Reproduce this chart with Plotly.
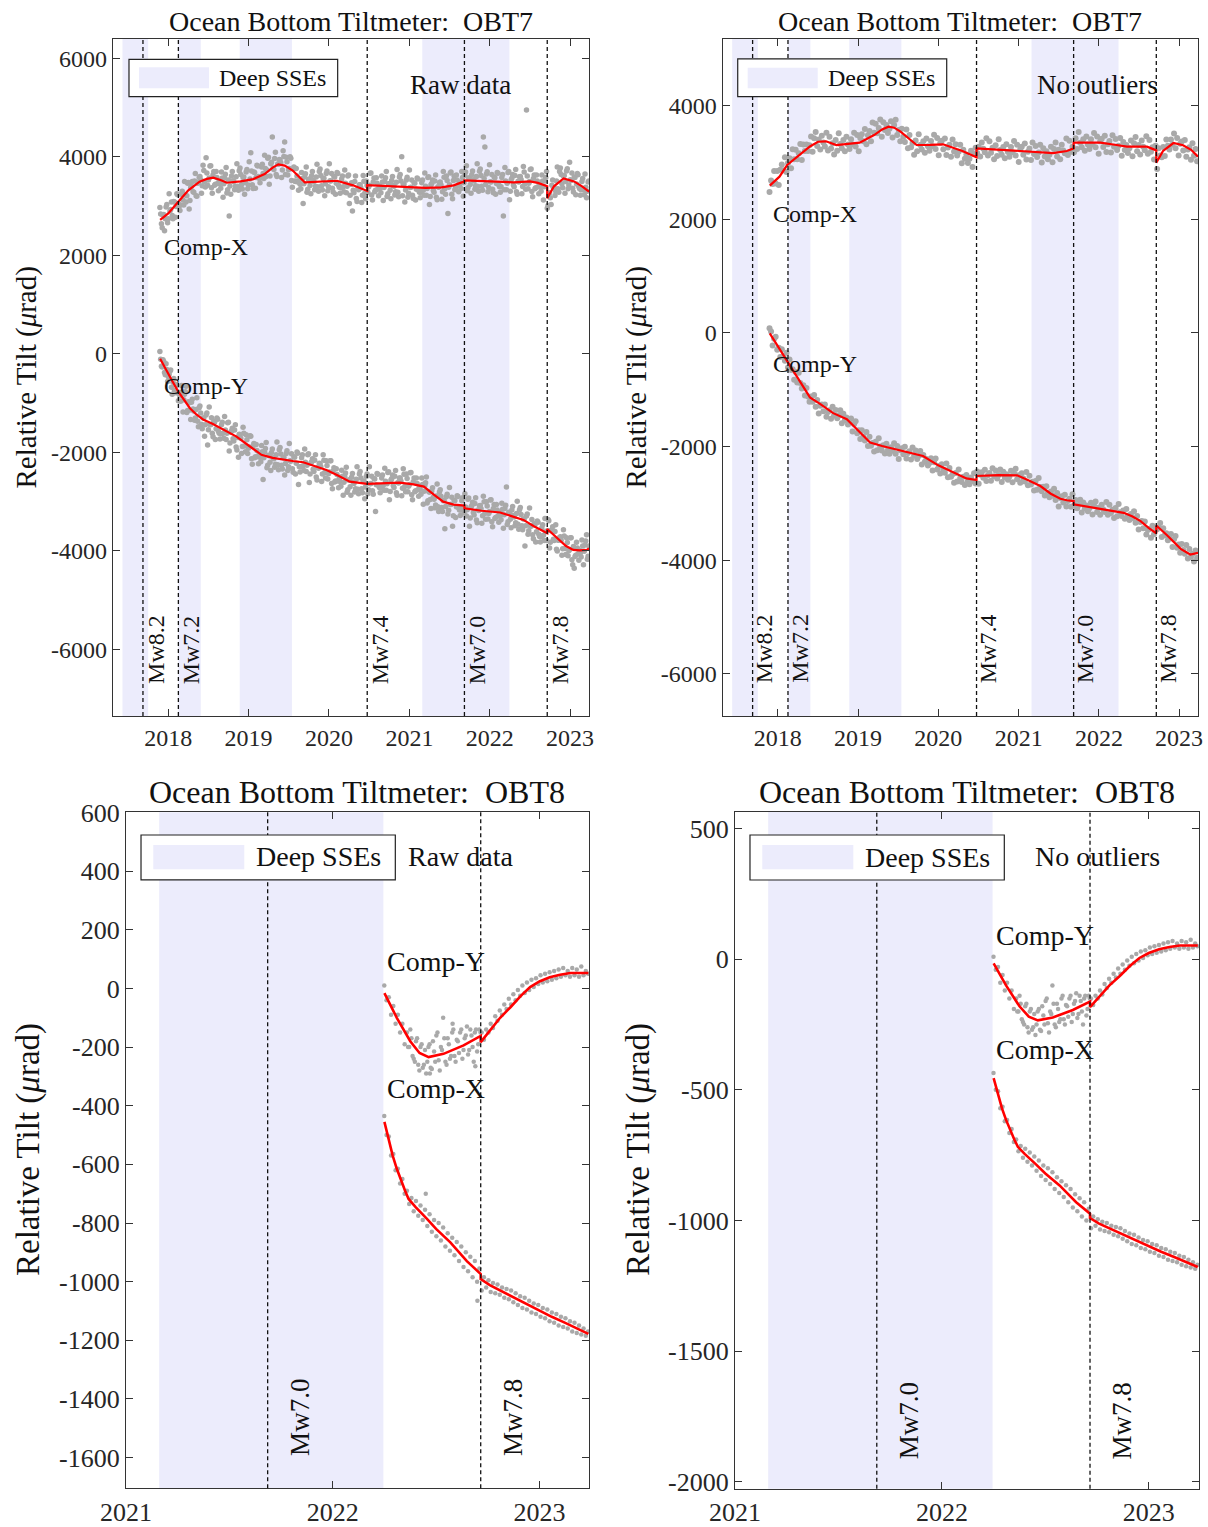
import numpy as np
import pandas as pd
import plotly.graph_objects as go
from datetime import datetime

# ---------------------------------------------------------------- helpers
def dy(t):
    y = int(np.floor(t))
    a = datetime(y, 1, 1)
    b = datetime(y + 1, 1, 1)
    return a + (b - a) * (t - y)

FONT = "Liberation Serif"
AXC = "#333333"
TXT = "#111111"
GRAY = "#a9a9a9"
RED = "#ff0000"
SSE = "rgb(236,236,252)"

# ---------------------------------------------------------------- events
QUAKES_TOP = [2017.685, 2018.126, 2020.476, 2021.685, 2022.716]
QUAKE_LABELS_TOP = ["Mw8.2", "Mw7.2", "Mw7.4", "Mw7.0", "Mw7.8"]
QUAKES_BOT = [2021.685, 2022.716]
QUAKE_LABELS_BOT = ["Mw7.0", "Mw7.8"]
SSE_START = [2017.43, 2018.125, 2018.89, 2021.16]
SSE_END = [2017.75, 2018.405, 2019.54, 2022.245]

# ---------------------------------------------------------------- OBT7 samples (weekly)
top_dates = pd.date_range("2017-11-24", periods=279, freq="7D")
top_dates_b = pd.date_range("2017-11-27 12:00", periods=279, freq="7D")

obt7_raw_x = [
    2970, 2640, 2820, 2500, 2980, 2660, 3250, 2930, 2810, 3090, 2770, 3250, 3040,
    2910, 3240, 3120, 3500, 3080, 3460, 2940, 3370, 3500, 3280, 3660, 3200, 3480,
    3600, 3260, 3830, 3500, 3980, 3420, 3570, 3820, 3260, 3700, 3440, 3580, 3310,
    3450, 3690, 3180, 3570, 3780, 3330, 2800, 3240, 3700, 3500, 3400, 3860, 3320,
    3770, 3430, 3580, 3240, 3690, 3350, 3900, 4080, 3430, 3690, 3360, 3830, 3600,
    3470, 3790, 3660, 4030, 3600, 3970, 3440, 3860, 4400, 3740, 4090, 3600, 3850,
    3940, 3580, 4120, 4300, 3990, 3630, 3760, 3970, 3380, 3790, 3500, 3610, 3320,
    3440, 3680, 3050, 3590, 3790, 3340, 3550, 3250, 3700, 3500, 3400, 3850, 3300,
    3750, 3410, 3560, 3210, 3660, 3310, 3860, 3510, 3360, 3600, 3240, 3680, 3420,
    3260, 3550, 3390, 3730, 3270, 3610, 3050, 3440, 2900, 3270, 3610, 3090, 3330,
    3430, 3070, 3620, 3260, 3510, 3280, 3420, 3670, 3120, 3570, 3320, 3460, 3210,
    3360, 3610, 3110, 3500, 3700, 3250, 3450, 3150, 3600, 3400, 3290, 3740, 3190,
    3640, 4000, 3440, 3080, 3530, 3180, 3730, 3380, 3220, 3470, 3120, 3570, 3320,
    3170, 3470, 3320, 3670, 3220, 3580, 3030, 3430, 3530, 3280, 3630, 3130, 3380,
    3490, 3140, 3700, 3350, 3610, 2850, 3430, 3690, 3150, 3610, 3370, 3530, 3290,
    3450, 3700, 3200, 3620, 3820, 3370, 3570, 3260, 3710, 3510, 3410, 3860, 3300,
    3750, 3400, 4400, 4200, 3650, 3290, 3840, 3490, 3340, 3590, 3240, 3680, 3430,
    3280, 3580, 2800, 3780, 3330, 3680, 3130, 3530, 3640, 3390, 3740, 3240, 3490,
    3600, 3250, 3800, 3450, 4950, 3350, 3500, 3750, 3190, 3630, 3370, 3510, 3250,
    3390, 3630, 3120, 3510, 3700, 3010, 3270, 3030, 3530, 3370, 3300, 3790, 3280,
    3770, 3450, 3610, 3260, 3710, 3350, 3890, 3520, 3360, 3590, 3230, 3660, 3390,
    3220, 3500, 3330, 3650, 3170, 3490,
]
obt7_raw_x_b = [
    2840, 2560, 2830, 2740, 3030, 2740, 2900, 3080, 2740, 3080, 2990, 3230, 3000,
    3020, 3300, 3020, 3230, 3210, 3480, 3110, 3400, 3290, 3510, 3210, 3460, 3580,
    3535, 3410, 3720, 3385, 3670, 3530, 3814, 3370, 3630, 3420, 3700, 3455, 3510,
    3360, 3570, 3450, 3643, 3265, 3530, 3405, 3610, 3515, 3330, 3595, 3400, 3715,
    3640, 3345, 3590, 3475, 3740, 3425, 3550, 3710, 3355, 3680, 3580, 3810, 3560,
    3580, 3850, 3560, 3760, 3730, 3990, 3610, 3890, 3765, 3965, 3640, 3855, 3945,
    3880, 3730, 4005, 3640, 3900, 3735, 4000, 3520, 3750, 3510, 3760, 3490, 3520,
    3350, 3560, 3450, 3655, 3280, 3540, 3415, 3615, 3520, 3330, 3590, 3390, 3700,
    3620, 3325, 3565, 3450, 3710, 3393, 3513, 3660, 3285, 3590, 3460, 3660, 3380,
    3370, 3610, 3290, 3460, 3400, 3630, 3220, 3470, 3320, 3500, 3155, 3350, 3430,
    3365, 3220, 3505, 3150, 3415, 3386, 3664, 3222, 3490, 3288, 3576, 3344, 3412,
    3270, 3488, 3376, 3574, 3192, 3450, 3320, 3520, 3418, 3226, 3484, 3282, 3590,
    3510, 3208, 3446, 3324, 3582, 3260, 3378, 3526, 3154, 3462, 3340, 3550, 3280,
    3280, 3530, 3220, 3402, 3354, 3595, 3196, 3457, 3318, 3509, 3180, 3390, 3480,
    3425, 3290, 3585, 3240, 3520, 3380, 3670, 3240, 3520, 3330, 3630, 3410, 3490,
    3355, 3578, 3470, 3690, 3310, 3568, 3436, 3634, 3532, 3340, 3598, 3396, 3704,
    3622, 3320, 3560, 3438, 3696, 3374, 3492, 3640, 3268, 3576, 3455, 3664, 3393,
    3392, 3641, 3330, 3510, 3460, 3700, 3302, 3564, 3426, 3618, 3290, 3502, 3594,
    3536, 3398, 3690, 3340, 3610, 3460, 3740, 3295, 3560, 3350, 3630, 3390, 3450,
    3300, 3510, 3390, 3580, 2955, 3240, 3170, 3420, 3370, 3215, 3510, 3350, 3700,
    3640, 3370, 3620, 3500, 3755, 3425, 3535, 3670, 3285, 3580, 3445, 3635, 3350,
    3330, 3560, 3230, 3380, 3300, 3510,
]
obt7_raw_y = [
    50, -250, -120, -380, -200, -560, -420, -330, -820, -500, -790, -640, -950,
    -850, -640, -1180, -820, -660, -1150, -990, -1330, -920, -1160, -1300, -890, -1480,
    -1060, -1430, -1300, -1670, -1240, -1850, -1080, -1440, -1610, -1370, -1740, -1300, -1570,
    -1730, -1440, -1610, -1270, -1740, -1400, -1970, -1590, -1510, -1770, -1440, -1950, -2100,
    -1640, -2020, -1490, -1870, -1640, -2020, -1890, -1670, -2240, -1820, -2090, -1960, -2230,
    -2100, -1860, -2550, -1990, -1800, -2260, -2070, -2370, -1930, -2130, -2240, -1790, -2350,
    -1900, -2260, -2110, -2460, -2020, -2370, -1820, -2180, -2330, -2090, -2440, -1990, -2650,
    -2400, -2110, -2270, -1930, -2390, -2050, -2610, -2220, -2130, -2390, -2050, -2560, -2320,
    -2230, -2590, -2050, -2410, -2170, -2540, -2400, -2170, -2740, -2310, -2580, -2450, -2720,
    -2590, -2360, -2870, -2490, -2300, -2760, -2560, -2870, -2430, -2630, -2740, -2290, -2840,
    -2390, -2740, -2590, -2940, -2490, -2840, -2290, -2630, -2780, -2530, -3200, -2430, -2670,
    -2820, -2520, -2670, -2320, -2770, -2410, -2960, -2560, -2460, -2710, -2370, -2870, -2620,
    -2520, -2880, -2330, -2690, -2440, -2800, -2650, -2410, -2960, -2520, -2780, -2630, -2890,
    -2750, -2520, -3050, -2670, -2500, -2980, -2810, -3140, -2720, -2950, -3070, -2640, -3200,
    -2760, -3120, -2980, -3550, -2900, -3250, -2710, -3060, -3500, -2970, -3320, -2880, -3130,
    -3280, -2980, -3130, -2840, -3290, -2950, -3500, -3110, -3010, -3270, -2920, -3430, -3180,
    -3080, -3440, -2890, -3240, -3000, -3350, -3200, -2960, -3510, -3060, -3320, -3170, -3420,
    -3280, -3030, -3540, -3140, -2700, -3410, -3220, -3530, -3100, -3310, -3430, -2990, -3560,
    -3120, -3490, -3350, -3900, -3290, -3660, -3130, -3500, -3670, -3450, -3820, -3390, -3660,
    -3820, -3530, -3680, -3340, -3790, -3360, -3940, -3580, -3510, -3790, -3470, -4000, -3780,
    -3710, -4090, -3570, -3950, -3730, -4100, -3970, -3730, -4280, -4350, -4090, -3940, -4190,
    -4040, -3780, -4280, -3880, -3670, -4110,
]
obt7_raw_y_b = [
    -110, -265, -155, -425, -320, -465, -355, -680, -575, -745, -620, -795, -785,
    -960, -780, -930, -770, -1190, -970, -1140, -980, -1120, -1350, -1130, -1370, -1095,
    -1198, -1520, -1300, -1440, -1200, -1538, -1432, -1298, -1682, -1388, -1522, -1328, -1610,
    -1622, -1388, -1712, -1548, -1612, -1390, -1810, -1568, -1722, -1548, -1892, -1700, -1630,
    -1712, -1878, -1612, -1988, -1742, -1918, -1662, -2128, -1882, -2108, -1840, -2090, -2038,
    -2192, -1988, -2110, -1920, -2310, -2060, -2198, -2002, -2108, -2302, -2048, -2252, -1948,
    -2032, -2338, -2101, -2224, -1966, -2289, -2172, -2028, -2402, -2098, -2222, -2018, -2290,
    -2292, -2050, -2370, -2200, -2260, -2030, -2440, -2190, -2340, -2160, -2500, -2300, -2220,
    -2290, -2440, -2160, -2522, -2268, -2432, -2170, -2630, -2380, -2600, -2330, -2580, -2530,
    -2688, -2482, -2608, -2420, -2810, -2558, -2696, -2502, -2608, -2802, -2546, -2749, -2440,
    -2520, -2820, -2580, -2700, -2439, -2757, -2635, -2483, -2851, -2539, -2657, -2445, -2713,
    -2711, -2459, -2767, -2585, -2634, -2393, -2793, -2533, -2673, -2485, -2817, -2609, -2521,
    -2583, -2727, -2442, -2797, -2532, -2687, -2412, -2858, -2595, -2801, -2518, -2756, -2695,
    -2850, -2652, -2788, -2615, -3025, -2795, -2955, -2785, -2912, -3125, -2885, -3102, -2802,
    -2890, -3200, -2970, -3100, -2848, -3172, -3058, -2912, -3288, -2982, -3105, -2897, -3169,
    -3170, -2920, -3230, -3108, -3162, -2928, -3332, -3078, -3222, -3038, -3372, -3168, -3082,
    -3145, -3288, -3002, -3355, -3088, -3242, -2965, -3408, -3140, -3344, -3056, -3289, -3222,
    -3368, -3152, -3268, -3075, -3465, -3215, -3355, -3168, -3282, -3488, -3242, -3458, -3162,
    -3258, -3572, -3350, -3490, -3250, -3590, -3490, -3360, -3752, -3468, -3610, -3420, -3705,
    -3714, -3471, -3786, -3609, -3590, -3388, -3822, -3595, -3765, -3605, -3965, -3785, -3725,
    -3785, -3955, -3695, -4072, -3828, -3998, -3730, -4178, -3912, -4115, -3825, -4055, -3985,
    -4124, -3901, -4008, -3800, -4170, -3902,
]
obt7_clean_x = [
    2480, 2680, 2620, 2850, 2630, 2850, 2600, 2870, 2960, 2860, 3090, 2830, 2990,
    3070, 2895, 3230, 3055, 3220, 3055, 3160, 3325, 3040, 3315, 3200, 3315, 3200,
    3300, 3455, 3185, 3422, 3535, 3288, 3400, 3228, 3470, 3350, 3280, 3520, 3208,
    3450, 3245, 3335, 3138, 3392, 3206, 3510, 3324, 3248, 3392, 3196, 3450, 3312,
    3234, 3405, 3316, 3520, 3280, 3480, 3195, 3430, 3495, 3370, 3585, 3320, 3475,
    3550, 3370, 3700, 3520, 3680, 3510, 3605, 3755, 3452, 3706, 3567, 3657, 3516,
    3592, 3725, 3435, 3655, 3750, 3480, 3570, 3370, 3590, 3450, 3360, 3580, 3250,
    3480, 3265, 3340, 3135, 3385, 3195, 3496, 3307, 3228, 3369, 3170, 3421, 3282,
    3203, 3374, 3285, 3486, 3237, 3427, 3126, 3340, 3380, 3230, 3420, 3130, 3260,
    3310, 3100, 3400, 3190, 3320, 3120, 3185, 3310, 2985, 3220, 3065, 3140, 2990,
    3065, 3202, 2920, 3149, 3258, 3166, 3274, 3102, 3350, 3238, 3176, 3424, 3122,
    3370, 3168, 3256, 3054, 3302, 3110, 3408, 3216, 3134, 3272, 3071, 3320, 3180,
    3100, 3268, 3176, 3374, 3122, 3310, 3008, 3226, 3274, 3132, 3330, 3048, 3186,
    3244, 3042, 3350, 3148, 3286, 3094, 3172, 3310, 2998, 3246, 3105, 3194, 3054,
    3134, 3276, 3000, 3235, 3350, 3105, 3220, 3055, 3310, 3210, 3160, 3420, 3128,
    3382, 3185, 3276, 3176, 3426, 3236, 3536, 3346, 3266, 3406, 3206, 3456, 3316,
    3236, 3406, 3316, 3516, 3266, 3455, 3153, 3370, 3416, 3272, 3468, 3184, 3320,
    3376, 3172, 3478, 3274, 3410, 3216, 3292, 3428, 3114, 3360, 3218, 3306, 3166,
    3246, 3386, 3106, 3336, 3446, 3196, 3306, 3136, 3386, 3275, 3214, 3460, 3152,
    3395, 3185, 3265, 3052, 3291, 2884, 3250, 3120, 3090, 3270, 3110, 3400, 3290,
    3225, 3400, 3310, 3508, 3250, 3430, 3120, 3328, 3365, 3210, 3395, 3100, 3225,
    3265, 3045, 3335, 3115, 3235, 3020,
]
obt7_clean_y = [
    80, 25, -220, -105, -70, -295, -260, -425, -290, -410, -490, -350, -610,
    -470, -655, -640, -825, -690, -875, -700, -880, -980, -920, -1100, -970, -1120,
    -1210, -1120, -1210, -1095, -1300, -1180, -1420, -1280, -1260, -1380, -1260, -1475, -1390,
    -1360, -1510, -1300, -1448, -1356, -1504, -1452, -1360, -1590, -1422, -1535, -1490, -1610,
    -1575, -1505, -1735, -1605, -1555, -1765, -1715, -1865, -1715, -1825, -1895, -1745, -1990,
    -1829, -1985, -1938, -2088, -1916, -2064, -1852, -2000, -2068, -1976, -2124, -1952, -2060,
    -2125, -2010, -2075, -1940, -2126, -1992, -2218, -2064, -2030, -2136, -2002, -2208, -2115,
    -2082, -2229, -2016, -2163, -2070, -2218, -2165, -2080, -2315, -2150, -2265, -2220, -2335,
    -2290, -2205, -2420, -2275, -2210, -2405, -2340, -2475, -2310, -2405, -2460, -2300, -2540,
    -2375, -2530, -2485, -2635, -2465, -2615, -2405, -2555, -2622, -2529, -2675, -2500, -2604,
    -2665, -2546, -2607, -2468, -2648, -2438, -2656, -2494, -2452, -2550, -2408, -2606, -2505,
    -2464, -2603, -2382, -2522, -2422, -2562, -2502, -2402, -2622, -2443, -2544, -2485, -2586,
    -2525, -2425, -2626, -2468, -2390, -2575, -2505, -2637, -2470, -2563, -2616, -2449, -2682,
    -2515, -2668, -2621, -2774, -2607, -2760, -2554, -2711, -2788, -2705, -2862, -2699, -2816,
    -2893, -2790, -2867, -2744, -2941, -2818, -3055, -2905, -2875, -2982, -2848, -3053, -2956,
    -2918, -3059, -2839, -3038, -2942, -3086, -3030, -2935, -3160, -2985, -3090, -3035, -3140,
    -3085, -2990, -3195, -3040, -2965, -3150, -3075, -3200, -3024, -3108, -3152, -2976, -3200,
    -3024, -3168, -3112, -3256, -3080, -3225, -3010, -3155, -3220, -3125, -3270, -3100, -3215,
    -3290, -3185, -3260, -3140, -3340, -3220, -3460, -3325, -3310, -3435, -3320, -3545, -3470,
    -3450, -3605, -3395, -3542, -3449, -3455, -3420, -3345, -3590, -3435, -3560, -3525, -3650,
    -3615, -3540, -3765, -3630, -3575, -3780, -3725, -3870, -3715, -3820, -3885, -3730, -3970,
    -3800, -3945, -3885, -4020, -3830, -3955,
]

# fitted curves OBT7 (decimal year knots, repeated knot = coseismic step)
fit7_raw_x_t = [2017.899, 2018.0, 2018.125, 2018.25, 2018.39, 2018.48, 2018.56, 2018.65, 2018.73,
                2018.9, 2019.06, 2019.2, 2019.3, 2019.37, 2019.45, 2019.55, 2019.7, 2019.9, 2020.1,
                2020.3, 2020.476, 2020.476, 2020.7, 2020.9, 2021.2, 2021.4, 2021.55, 2021.685,
                2021.685, 2022.0, 2022.3, 2022.5, 2022.6, 2022.716, 2022.716, 2022.8, 2022.92,
                2023.05, 2023.15, 2023.236]
fit7_raw_x = [2717, 2850, 3088, 3320, 3493, 3550, 3574, 3530, 3473, 3500, 3547, 3650, 3780, 3845,
              3820, 3720, 3480, 3495, 3513, 3420, 3305, 3426, 3410, 3400, 3370, 3380, 3420, 3500,
              3520, 3500, 3480, 3500, 3470, 3400, 3157, 3400, 3560, 3500, 3400, 3290]
fit7_raw_y_t = [2017.899, 2017.95, 2018.0, 2018.06, 2018.125, 2018.2, 2018.27, 2018.35, 2018.44,
                2018.55, 2018.68, 2018.78, 2018.85, 2019.0, 2019.16, 2019.3, 2019.43, 2019.55,
                2019.68, 2019.82, 2019.97, 2020.1, 2020.26, 2020.476, 2020.7, 2020.88, 2021.05,
                2021.18, 2021.3, 2021.42, 2021.55, 2021.685, 2021.685, 2021.9, 2022.13, 2022.3,
                2022.42, 2022.55, 2022.716, 2022.716, 2022.85, 2022.95, 2023.04, 2023.12, 2023.21,
                2023.236]
fit7_raw_y = [-100, -260, -400, -580, -765, -950, -1103, -1230, -1340, -1420, -1530, -1620, -1680,
              -1860, -2050, -2110, -2150, -2175, -2200, -2270, -2356, -2460, -2593, -2640, -2625,
              -2613, -2650, -2695, -2850, -3000, -3060, -3080, -3135, -3185, -3220, -3300, -3370,
              -3500, -3640, -3555, -3750, -3900, -3980, -3990, -3980, -3950]
fit7_clean_x_t = [2017.899, 2017.97, 2018.02, 2018.116, 2018.2, 2018.27, 2018.4, 2018.5, 2018.6,
                  2018.73, 2018.9, 2019.02, 2019.2, 2019.3, 2019.38, 2019.45, 2019.53, 2019.63,
                  2019.73, 2019.9, 2020.06, 2020.3, 2020.476, 2020.476, 2020.9, 2021.2, 2021.43,
                  2021.6, 2021.685, 2021.685, 2022.02, 2022.2, 2022.35, 2022.6, 2022.716, 2022.716,
                  2022.8, 2022.93, 2023.05, 2023.15, 2023.236]
fit7_clean_x = [2590, 2680, 2748, 2953, 3050, 3129, 3280, 3363, 3370, 3305, 3330, 3346, 3480, 3580,
                3627, 3610, 3540, 3420, 3305, 3308, 3317, 3200, 3088, 3246, 3211, 3190, 3164, 3200,
                3246, 3346, 3346, 3310, 3276, 3276, 3211, 2994, 3200, 3340, 3300, 3220, 3100]
fit7_clean_y_t = [2017.899, 2017.98, 2018.05, 2018.10, 2018.18, 2018.27, 2018.4, 2018.53, 2018.69,
                  2018.86, 2019.0, 2019.15, 2019.3, 2019.48, 2019.65, 2019.81, 2020.0, 2020.19,
                  2020.35, 2020.476, 2020.476, 2020.75, 2020.98, 2021.1, 2021.27, 2021.4, 2021.52,
                  2021.6, 2021.685, 2021.685, 2022.06, 2022.31, 2022.42, 2022.52, 2022.62, 2022.716,
                  2022.716, 2022.85, 2023.02, 2023.14, 2023.236]
fit7_clean_y = [-10, -194, -330, -459, -650, -841, -1135, -1253, -1412, -1518, -1720, -1929, -1990,
                -2047, -2110, -2165, -2330, -2459, -2560, -2588, -2518, -2502, -2506, -2580, -2694,
                -2830, -2918, -2945, -2959, -3018, -3106, -3165, -3230, -3312, -3430, -3529, -3388,
                -3560, -3800, -3900, -3870]

# ---------------------------------------------------------------- OBT8 samples (every 4 days)
bot_dates = pd.date_range("2022-04-02", periods=91, freq="4D")
obt8_y = [
    10, -40, -30, -90, -60, -120, -90, -150, -120, -190, -150, -200, -170,
    -240, -180, -260, -200, -270, -210, -250, -190, -275, -215, -160, -245, -200,
    -100, -250, -170, -240, -150, -230, -175, -220, -140, -210, -160, -225, -140,
    -200, -150, -215, -140,
    -150, -175, -140, -150, -120, -135, -95, -110, -75, -90, -55, -70, -35,
    -55, -20, -40, -5, -25, 10, -15, 20, -5, 30, 5, 35, 15,
    45, 20, 50, 25, 55, 30, 60, 35, 65, 40, 70, 45, 60,
    40, 70, 45, 65, 40, 75, 45, 60, 50,
]
# extra samples in the scattered trough of Comp-Y (mid-May to mid-Sep 2022)
trough_dates = pd.date_range("2022-05-14", periods=33, freq="4D")
obt8_y_trough = [
    -200, -140, -230, -250, -170, -280, -190, -260, -290, -200, -270, -180, -250,
    -150, -280, -210, -170, -260, -190, -230, -140, -250, -180, -150, -240, -170,
    -130, -210, -160, -250, -140, -190, -150,
]
obt8_x = [
    -435, -500, -505, -570, -565, -620, -615, -665, -650, -700, -690, -735, -715,
    -760, -725, -775, -740, -790, -755, -810, -770, -830, -790, -845, -800, -860,
    -815, -880, -835, -895, -850, -910, -865, -930, -880, -950, -900, -965, -915,
    -985, -930, -1000, -955,
    -1030, -985, -1020, -995, -1035, -1005, -1040, -1010, -1045, -1020, -1055, -1025, -1060,
    -1030, -1070, -1040, -1080, -1050, -1090, -1055, -1095, -1065, -1105, -1075, -1110, -1080,
    -1120, -1090, -1125, -1095, -1135, -1105, -1140, -1110, -1150, -1120, -1155, -1125, -1160,
    -1135, -1170, -1140, -1175, -1150, -1180, -1160, -1185, -1170,
]
# points present only in the raw record
obt8_out_y_t = [2022.47, 2022.69, 2022.58]
obt8_out_y = [-290, -265, -120]
obt8_out_x_t = [2022.45, 2022.70]
obt8_out_x = [-700, -1065]

fit8_y_t = [2022.25, 2022.31, 2022.375, 2022.42, 2022.464, 2022.536, 2022.633, 2022.716, 2022.716,
            2022.76, 2022.81, 2022.86, 2022.91, 2022.955, 2023.0, 2023.05, 2023.1, 2023.15, 2023.237]
fit8_y = [-16, -100, -180, -220, -234, -223, -194, -162, -183, -143, -100, -64, -25, 5, 24, 38, 47,
          53, 53]
fit8_x_t = [2022.25, 2022.27, 2022.29, 2022.31, 2022.33, 2022.35, 2022.367, 2022.40, 2022.456,
            2022.50, 2022.569, 2022.60, 2022.649, 2022.716, 2022.716, 2022.76, 2022.86, 2022.93,
            2023.0, 2023.06, 2023.12, 2023.18, 2023.237]
fit8_x = [-455, -515, -570, -615, -655, -690, -718, -745, -786, -820, -866, -890, -930, -974, -991,
          -1012, -1048, -1074, -1099, -1120, -1139, -1159, -1178]

# ---------------------------------------------------------------- axes / ticks
top_xticks = [2018, 2019, 2020, 2021, 2022, 2023]
bot_xticks = [2021, 2022, 2023]
yt_tl = [6000, 4000, 2000, 0, -2000, -4000, -6000]
yt_tr = [4000, 2000, 0, -2000, -4000, -6000]
yt_bl = [600, 400, 200, 0, -200, -400, -600, -800, -1000, -1200, -1400, -1600]
yt_br = [500, 0, -500, -1000, -1500, -2000]

W, H = 1208, 1527
fig = go.Figure()

def axis_style(fs):
    return dict(showline=True, linecolor=AXC, linewidth=1.3, mirror="ticks", ticks="inside",
                ticklen=7, tickwidth=1.1, tickcolor=AXC, showgrid=False, zeroline=False,
                automargin=False,
                tickfont=dict(family=FONT, size=fs, color="#262626"))

panels = [
    dict(k=1, px=(113, 589), py=(39, 716), xr=(2017.312, 2023.236), yr=(-7350, 6390), yt=yt_tl,
         xt=top_xticks, tfs=24),
    dict(k=2, px=(722.7, 1198), py=(39, 716), xr=(2017.312, 2023.236), yr=(-6740, 5170), yt=yt_tr,
         xt=top_xticks, tfs=24),
    dict(k=3, px=(126, 589.3), py=(812.3, 1488.3), xr=(2020.9995, 2023.2415), yr=(-1705, 601),
         yt=yt_bl, xt=bot_xticks, tfs=26),
    dict(k=4, px=(735, 1199), py=(811.7, 1488.7), xr=(2020.9995, 2023.243), yr=(-2027, 565),
         yt=yt_br, xt=bot_xticks, tfs=26),
]

layout_axes = {}
for p in panels:
    k = p["k"]
    xs = "" if k == 1 else str(k)
    xa = axis_style(p["tfs"])
    xa.update(domain=[p["px"][0] / W, p["px"][1] / W], anchor="y" + xs, type="date",
              range=[dy(p["xr"][0]), dy(p["xr"][1])],
              tickvals=[datetime(v, 1, 1) for v in p["xt"]], ticktext=[str(v) for v in p["xt"]])
    ya = axis_style(p["tfs"])
    ya.update(domain=[1 - p["py"][1] / H, 1 - p["py"][0] / H], anchor="x" + xs, range=list(p["yr"]),
              tickvals=p["yt"], ticktext=[str(v) for v in p["yt"]])
    layout_axes["xaxis" + xs] = xa
    layout_axes["yaxis" + xs] = ya

def ref(k):
    return ("x", "y") if k == 1 else (f"x{k}", f"y{k}")

def add_scatter(k, x, y, size):
    xr, yr = ref(k)
    fig.add_trace(go.Scatter(x=x, y=y, mode="markers", xaxis=xr, yaxis=yr, showlegend=False,
                             hoverinfo="skip", cliponaxis=True,
                             marker=dict(color=GRAY, size=size, line=dict(width=0))))

def add_fit(k, t, v, width):
    xr, yr = ref(k)
    fig.add_trace(go.Scatter(x=[dy(a) for a in t], y=v, mode="lines", xaxis=xr, yaxis=yr,
                             showlegend=False, hoverinfo="skip",
                             line=dict(color=RED, width=width)))

# OBT7 raw
add_scatter(1, top_dates, obt7_raw_x, 5.5)
add_scatter(1, top_dates_b, obt7_raw_x_b, 5.5)
add_scatter(1, top_dates, obt7_raw_y, 5.5)
add_scatter(1, top_dates_b, obt7_raw_y_b, 5.5)
add_fit(1, fit7_raw_x_t, fit7_raw_x, 2.2)
add_fit(1, fit7_raw_y_t, fit7_raw_y, 2.2)
# OBT7 clean
add_scatter(2, top_dates, obt7_clean_x, 6)
add_scatter(2, top_dates, obt7_clean_y, 6)
add_fit(2, fit7_clean_x_t, fit7_clean_x, 2.2)
add_fit(2, fit7_clean_y_t, fit7_clean_y, 2.2)
# OBT8 raw
add_scatter(3, list(bot_dates) + list(trough_dates) + [dy(t) for t in obt8_out_y_t],
            obt8_y + obt8_y_trough + obt8_out_y, 4.5)
add_scatter(3, list(bot_dates) + [dy(t) for t in obt8_out_x_t], obt8_x + obt8_out_x, 4.5)
add_fit(3, fit8_y_t, fit8_y, 2.6)
add_fit(3, fit8_x_t, fit8_x, 2.6)
# OBT8 clean
add_scatter(4, list(bot_dates) + list(trough_dates), obt8_y + obt8_y_trough, 4.5)
add_scatter(4, bot_dates, obt8_x, 4.5)
add_fit(4, fit8_y_t, fit8_y, 2.6)
add_fit(4, fit8_x_t, fit8_x, 2.6)

shapes = []
annotations = []

def dom(k):
    xr, yr = ref(k)
    return xr + " domain", yr + " domain"

for p in panels:
    k = p["k"]
    xr, yr = ref(k)
    xd, yd = dom(k)
    for s, e in zip(SSE_START, SSE_END):
        if e > p["xr"][0]:
            shapes.append(dict(type="rect", xref=xr, yref=yd, x0=dy(max(s, p["xr"][0])), x1=dy(e),
                               y0=0, y1=1, fillcolor=SSE, line=dict(width=0), layer="below"))
    qs = QUAKES_TOP if k <= 2 else QUAKES_BOT
    for q in qs:
        shapes.append(dict(type="line", xref=xr, yref=yd, x0=dy(q), x1=dy(q), y0=0, y1=1,
                           line=dict(color="#111111", width=1.3, dash="4px,3px"), layer="above"))

legend_geo = [
    (1, (0.0336, 0.472, 0.9148, 0.970), (0.0546, 0.2017, 0.9272, 0.9582), 0.2178, 0.943, 24),
    (2, (0.0316, 0.4713, 0.9148, 0.9705), (0.0526, 0.1999, 0.9272, 0.9576), 0.2173, 0.943, 24),
    (3, (0.0324, 0.5813, 0.8999, 0.9664), (0.0589, 0.2553, 0.9157, 0.9516), 0.277, 0.934, 28),
    (4, (0.0323, 0.5804, 0.8991, 0.9656), (0.0588, 0.2550, 0.9149, 0.9508), 0.2765, 0.933, 28),
]
for k, box, sw, tx, ty, fs in legend_geo:
    xd, yd = dom(k)
    shapes.append(dict(type="rect", xref=xd, yref=yd, x0=box[0], x1=box[1], y0=box[2], y1=box[3],
                       fillcolor="white", line=dict(color="#222222", width=1.2), layer="above"))
    shapes.append(dict(type="rect", xref=xd, yref=yd, x0=sw[0], x1=sw[1], y0=sw[2], y1=sw[3],
                       fillcolor=SSE, line=dict(width=0), layer="above"))
    annotations.append(dict(xref=xd, yref=yd, x=tx, y=ty, text="Deep SSEs", showarrow=False,
                            xanchor="left", yanchor="middle",
                            font=dict(family=FONT, size=fs, color=TXT)))

for k, txt, x, y, fs in [(1, "Raw data", 0.730, 0.932, 27), (2, "No outliers", 0.7886, 0.932, 27),
                         (3, "Raw data", 0.722, 0.934, 28), (4, "No outliers", 0.781, 0.934, 28)]:
    xd, yd = dom(k)
    annotations.append(dict(xref=xd, yref=yd, x=x, y=y, text=txt, showarrow=False,
                            xanchor="center", yanchor="middle",
                            font=dict(family=FONT, size=fs, color=TXT)))

for k, x, y, txt, fs in [(1, 2017.918, 2176, "Comp-X", 24), (1, 2017.918, -660, "Comp-Y", 24),
                         (2, 2017.909, 2091, "Comp-X", 24), (2, 2017.909, -547, "Comp-Y", 24),
                         (3, 2022.255, 93, "Comp-Y", 28), (3, 2022.255, -341, "Comp-X", 28),
                         (4, 2022.253, 90, "Comp-Y", 28), (4, 2022.253, -347, "Comp-X", 28)]:
    xr, yr = ref(k)
    annotations.append(dict(xref=xr, yref=yr, x=dy(x), y=y, text=txt, showarrow=False,
                            xanchor="left", yanchor="middle",
                            font=dict(family=FONT, size=fs, color=TXT)))

for k, ybase, fs in [(1, -6745, 24), (2, -6193, 24), (3, -1602, 27), (4, -1922, 27)]:
    xr, yr = ref(k)
    qs, ls = (QUAKES_TOP, QUAKE_LABELS_TOP) if k <= 2 else (QUAKES_BOT, QUAKE_LABELS_BOT)
    for q, lab in zip(qs, ls):
        annotations.append(dict(xref=xr, yref=yr, x=dy(q + 0.153), y=ybase, text=lab,
                                showarrow=False, textangle=-90, xanchor="center", yanchor="bottom",
                                font=dict(family=FONT, size=fs, color=TXT)))

for cx, cy, txt, fs in [(351, 21, "Ocean Bottom Tiltmeter:  OBT7", 28),
                        (960, 21, "Ocean Bottom Tiltmeter:  OBT7", 28),
                        (357, 792, "Ocean Bottom Tiltmeter:  OBT8", 32),
                        (967, 792, "Ocean Bottom Tiltmeter:  OBT8", 32)]:
    annotations.append(dict(xref="paper", yref="paper", x=cx / W, y=1 - cy / H, text=txt,
                            showarrow=False, xanchor="center", yanchor="middle",
                            font=dict(family=FONT, size=fs, color=TXT)))
for cx, cy, fs in [(26, 377.5, 29), (636, 377.5, 29), (28, 1150, 33), (638, 1150, 33)]:
    annotations.append(dict(xref="paper", yref="paper", x=cx / W, y=1 - cy / H,
                            text="Relative Tilt (<i>μ</i>rad)", showarrow=False, textangle=-90,
                            xanchor="center", yanchor="middle",
                            font=dict(family=FONT, size=fs, color=TXT)))

fig.update_layout(width=W, height=H, margin=dict(l=0, r=0, t=0, b=0, pad=0), plot_bgcolor="white",
                  paper_bgcolor="white", shapes=shapes, annotations=annotations, showlegend=False,
                  template="none", font=dict(family=FONT, color=TXT), **layout_axes)

fig.write_html("out.html", config={"displayModeBar": False},
               post_script="document.body.style.margin='0px';document.body.style.overflow='hidden';")
